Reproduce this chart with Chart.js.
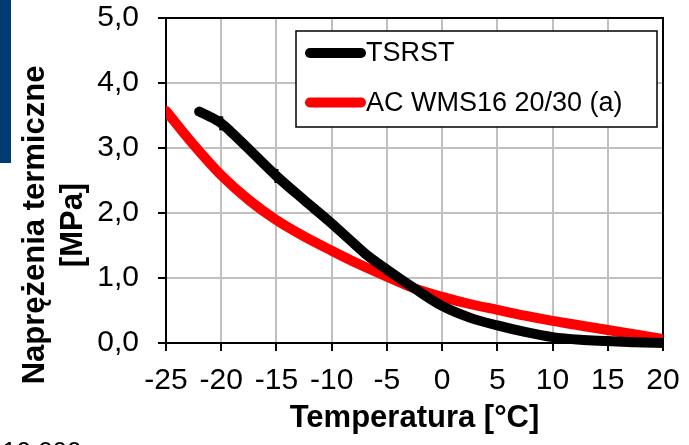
<!DOCTYPE html>
<html>
<head>
<meta charset="utf-8">
<script src="https://cdn.jsdelivr.net/npm/chart.js@4.4.0/dist/chart.umd.min.js"></script>
<style>
  html, body { margin:0; padding:0; background:#fff; overflow:hidden; }
  #wrap { position:relative; width:689px; height:445px; }
  #chart { position:absolute; left:0; top:0; }
  #bar { position:absolute; left:0; top:0; width:11px; height:163px; background:#003c71; }
  #cut { position:absolute; left:2px; top:436px; font:26px "Liberation Sans", Arial, sans-serif; color:#000; white-space:nowrap; }
</style>
</head>
<body>
<div id="wrap">
  <canvas id="chart" width="689" height="445"></canvas>
  <div id="bar"></div>
  <div id="cut">10 000</div>
</div>
<script>
// TSRST measurement (temperature °C, stress MPa)
const tsrstTemp   = [-22, -21, -20, -19, -17, -15, -12.5, -10, -8.5, -7, -5, -2.5, 0, 2.5, 5, 7.5, 10, 12.5, 15, 17.5, 20];
const tsrstStress = [3.56, 3.48, 3.38, 3.23, 2.90, 2.57, 2.20, 1.84, 1.61, 1.38, 1.13, 0.84, 0.57, 0.39, 0.27, 0.17, 0.09, 0.05, 0.03, 0.01, 0.00];
// little tick marks on the measured curve
const tsrstMarks = [-20, -15];
// computed curve AC WMS16 20/30 (a)
const acTemp   = [-25, -22.5, -20, -17.5, -15, -12.5, -10, -7.5, -5, -2.5, 0, 2.5, 5, 7.5, 10, 12.5, 15, 17.5, 20];
const acStress = [3.57, 3.05, 2.58, 2.20, 1.89, 1.64, 1.42, 1.21, 1.02, 0.84, 0.71, 0.60, 0.51, 0.42, 0.34, 0.27, 0.20, 0.13, 0.06];

const seriesNames = ["TSRST", "AC WMS16 20/30 (a)"];
const xTicks = [-25, -20, -15, -10, -5, 0, 5, 10, 15, 20];
const yTicks = [0, 1, 2, 3, 4, 5];
const xTitle = "Temperatura [°C]";
const yTitle = ["Naprężenia termiczne", "[MPa]"];

const FONT = '"Liberation Sans", Arial, sans-serif';
const pts = (xs, ys) => xs.map((x, i) => ({ x: x, y: ys[i] }));

// frame round the plot area (top and right edges)
const frame = {
  id: "frame",
  beforeDatasetsDraw(chart){
    const { ctx, chartArea: a } = chart;
    ctx.save();
    ctx.strokeStyle = "#000";
    ctx.lineWidth = 2;
    ctx.beginPath();
    ctx.moveTo(a.left - 8, a.top);
    ctx.lineTo(a.right, a.top);
    ctx.lineTo(a.right, a.bottom);
    ctx.stroke();
    ctx.restore();
  }
};

// legend box inside the plot, plus the two-line y title
const extras = {
  id: "extras",
  afterDraw(chart){
    const ctx = chart.ctx;
    ctx.save();
    // legend
    const bx = 296, by = 31, bw = 361, bh = 96;
    ctx.fillStyle = "#fff";
    ctx.fillRect(bx, by, bw, bh);
    ctx.strokeStyle = "#000";
    ctx.lineWidth = 1.5;
    ctx.strokeRect(bx, by, bw, bh);
    ctx.font = "27px " + FONT;
    ctx.textBaseline = "middle";
    chart.data.datasets.forEach((ds, i) => {
      const y = 53 + i * 49.5;
      ctx.strokeStyle = ds.borderColor;
      ctx.lineWidth = 10;
      ctx.lineCap = "round";
      ctx.beginPath();
      ctx.moveTo(310, y);
      ctx.lineTo(361, y);
      ctx.stroke();
      ctx.fillStyle = "#000";
      ctx.fillText(ds.label, 366, y + 1);
    });
    // y axis title
    ctx.font = "bold 31px " + FONT;
    ctx.textAlign = "center";
    ctx.textBaseline = "middle";
    ctx.fillStyle = "#000";
    [35, 73].forEach((x, i) => {
      ctx.save();
      ctx.translate(x, 225);
      ctx.rotate(-Math.PI / 2);
      ctx.fillText(yTitle[i], 0, 0);
      ctx.restore();
    });
    ctx.restore();
  }
};

const lineStyle = {
  fill: false,
  borderWidth: 10,
  borderCapStyle: "round",
  borderJoinStyle: "round",
  cubicInterpolationMode: "monotone",
  pointRadius: 0,
  pointHoverRadius: 0,
  clip: { left: 0, top: 5, right: 0, bottom: 5 }
};

new Chart(document.getElementById("chart"), {
  type: "line",
  data: {
    datasets: [
      Object.assign({ label: seriesNames[0], data: pts(tsrstTemp, tsrstStress), borderColor: "#000000" }, lineStyle, {
        pointRadius: tsrstTemp.map(t => tsrstMarks.includes(t) ? 7 : 0),
        pointStyle: "line",
        rotation: 90,
        pointBorderColor: "#000",
        pointBorderWidth: 4
      }),
      Object.assign({ label: seriesNames[1], data: pts(acTemp, acStress), borderColor: "#ff0000" }, lineStyle)
    ]
  },
  options: {
    responsive: false,
    animation: false,
    events: [],
    layout: { padding: { left: 0, right: 26, top: 18, bottom: 0 } },
    plugins: { legend: { display: false }, tooltip: { enabled: false } },
    scales: {
      x: {
        type: "linear",
        min: -25, max: 20,
        afterBuildTicks: s => { s.ticks = xTicks.map(v => ({ value: v })); },
        afterFit: s => { s.height = 102; s.paddingLeft = 0; s.paddingRight = 0; },
        grid: { color: "#c0c0c0", lineWidth: 2, tickColor: "#000", tickLength: 8, tickWidth: 2 },
        border: { color: "#000", width: 2 },
        ticks: { color: "#000", font: { family: FONT, size: 30 }, padding: 12, maxRotation: 0, autoSkip: false },
        title: { display: true, text: xTitle, color: "#000", font: { family: FONT, size: 31, weight: "bold" }, padding: { top: 0, bottom: 8 } }
      },
      y: {
        min: 0, max: 5,
        afterBuildTicks: s => { s.ticks = yTicks.map(v => ({ value: v })); },
        afterFit: s => { s.width = 166; s.paddingTop = 0; s.paddingBottom = 0; },
        grid: { color: "#c0c0c0", lineWidth: 2, tickColor: "#000", tickLength: 8, tickWidth: 2 },
        border: { color: "#000", width: 2 },
        ticks: { color: "#000", font: { family: FONT, size: 30 }, padding: 19,
                 callback: v => v.toFixed(1).replace(".", ",") }
      }
    }
  },
  plugins: [frame, extras]
});
</script>
</body>
</html>
